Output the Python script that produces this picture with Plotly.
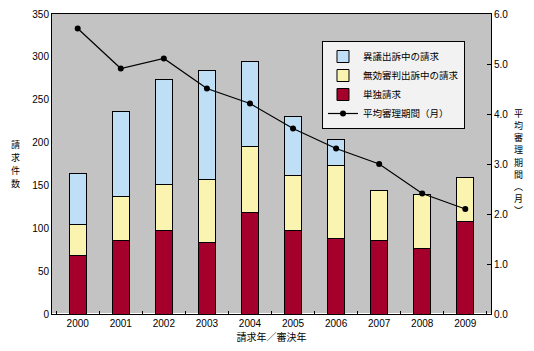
import plotly.graph_objects as go
from plotly.subplots import make_subplots

years = ["2000", "2001", "2002", "2003", "2004", "2005", "2006", "2007", "2008", "2009"]
single = [68, 86, 98, 83, 118, 97, 88, 86, 77, 108]
invalid_appeal = [37, 51, 53, 74, 78, 65, 85, 58, 62, 51]
opposition_appeal = [59, 99, 123, 127, 99, 69, 31, 0, 0, 0]
avg_months = [5.71, 4.91, 5.11, 4.51, 4.21, 3.71, 3.31, 3.0, 2.41, 2.1]
left_title_chars = ["請", "求", "件", "数"]
right_title_chars = ["平", "均", "審", "理", "期", "間", "︵", "月", "︶"]

FONT = "Noto Sans CJK JP, Arial, sans-serif"

fig = make_subplots(specs=[[{"secondary_y": True}]])

line_style = dict(color="black", width=1)
fig.add_trace(go.Bar(x=years, y=single, name="単独請求", marker=dict(color="#a5002b", line=line_style),
                     legendrank=3), secondary_y=False)
fig.add_trace(go.Bar(x=years, y=invalid_appeal, name="無効審判出訴中の請求",
                     marker=dict(color="#fbf4b0", line=line_style), legendrank=2), secondary_y=False)
fig.add_trace(go.Bar(x=years, y=opposition_appeal, name="異議出訴中の請求",
                     marker=dict(color="#bfdff7", line=line_style), legendrank=1), secondary_y=False)
fig.add_trace(go.Scatter(x=years, y=avg_months, name="平均審理期間（月）", mode="lines+markers",
                         line=dict(color="black", width=1.2), marker=dict(color="black", size=6),
                         legendrank=4), secondary_y=True)

fig.update_layout(
    width=534, height=351,
    margin=dict(l=52, r=43, t=14, b=37, autoexpand=False),
    paper_bgcolor="white",
    plot_bgcolor="#c3c3c3",
    barmode="stack",
    bargap=0.61,
    font=dict(family=FONT, size=10, color="black"),
    showlegend=True,
    legend=dict(x=0.615, y=0.91, xanchor="left", yanchor="top", traceorder="normal",
                bgcolor="#f2f2f2", bordercolor="black", borderwidth=1,
                font=dict(size=9.5), tracegroupgap=0, itemwidth=30),
)

fig.update_xaxes(domain=[0, 1], showline=True, linecolor="black", linewidth=1, mirror=True,
                 ticks="inside", tickson="boundaries", ticklen=3, tickcolor="black",
                 tickfont=dict(size=10, family="Arial, sans-serif"),
                 title=dict(text="請求年／審決年", font=dict(size=10), standoff=2))
fig.update_yaxes(range=[0, 350], dtick=50, showgrid=False, showline=True, linecolor="black",
                 linewidth=1, ticks="", tickfont=dict(size=10, family="Arial, sans-serif"),
                 secondary_y=False)
fig.update_yaxes(range=[0, 6], dtick=1, tickformat=".1f", showgrid=False, showline=True,
                 linecolor="black", linewidth=1, ticks="inside", ticklen=4, tickcolor="black",
                 tickfont=dict(size=10, family="Arial, sans-serif"), secondary_y=True)

# vertical (stacked) axis titles, one character per annotation
n = len(left_title_chars)
for i, ch in enumerate(left_title_chars):
    fig.add_annotation(text=ch, xref="paper", yref="paper", x=-0.083, y=0.5,
                       yshift=((n - 1) / 2 - i) * 13, showarrow=False,
                       xanchor="center", yanchor="middle", font=dict(size=9, family=FONT))
n = len(right_title_chars)
for i, ch in enumerate(right_title_chars):
    fig.add_annotation(text=ch, xref="paper", yref="paper", x=1.063, y=0.5,
                       yshift=((n - 1) / 2 - i) * 12.2 + 2, showarrow=False,
                       xanchor="center", yanchor="middle", font=dict(size=9, family=FONT))

fig.write_html("out.html")
